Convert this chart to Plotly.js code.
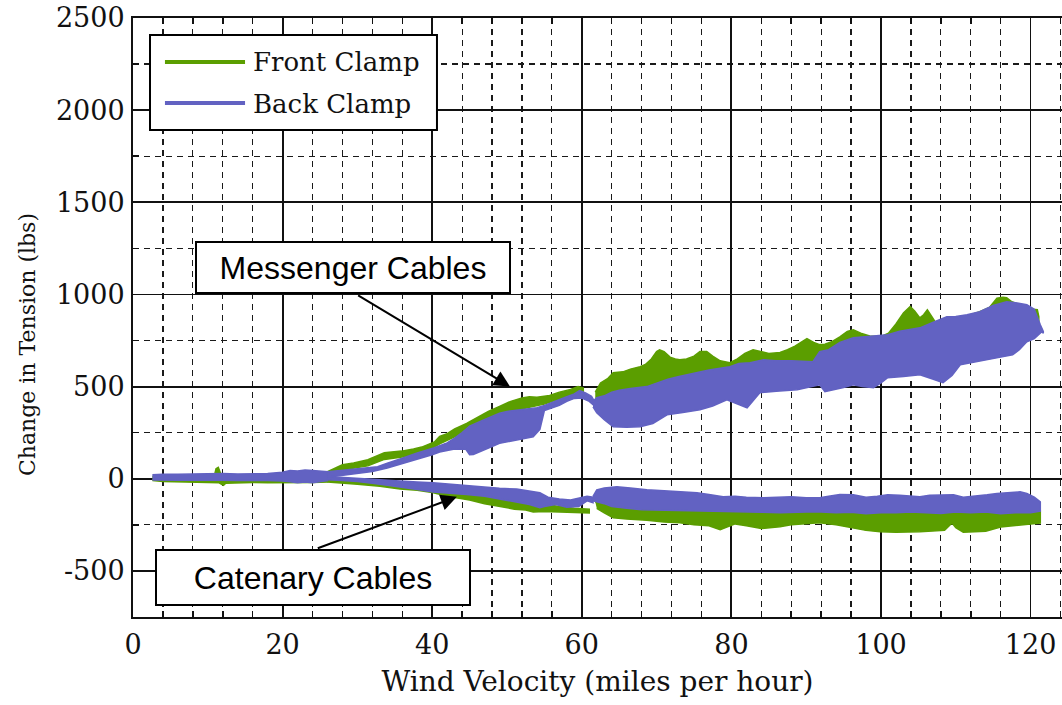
<!DOCTYPE html>
<html><head><meta charset="utf-8">
<script src="https://cdn.plot.ly/plotly-3.0.1.min.js"></script>
<style>html,body{margin:0;padding:0;background:#fff}#chart{width:1062px;height:705px}</style>
</head><body><div id="chart"></div>
<script>
// ---- series names / colours ----
const seriesNames = ['Front Clamp', 'Back Clamp'];
const frontColor = '#5b9e00';
const backColor = '#6262c2';

// ---- Front Clamp (green) band edges: [wind mph, change in tension lbs] ----
const frontFlatUpper = [[2.6,12],[4,14],[6,15],[8,14],[10,16],[10.9,20],[11.1,55],[11.4,62],[11.7,30],[12.3,14],[14,16],[16,15],[18,17],[20,20],[22,24],[24,30],[26,38]];
const frontFlatLower = [[26,-18],[24,-20],[22,-22],[20,-20],[18,-22],[16,-20],[14,-22],[12.4,-24],[12.1,-35],[11.8,-30],[11.5,-22],[10,-20],[8,-18],[6,-20],[4,-15],[2.6,-10]];
const frontMsgUpper1 = [[26,38],[28,76],[29.5,85],[31.4,103],[33.6,141],[35.9,150],[37.5,162],[38.6,172],[40.3,200],[41,230],[42,245],[43,270],[44.6,300],[46,330],[47.5,365],[49,392],[50.5,420],[52,438],[53,445],[54,442],[55,448],[55.7,452],[57,470],[58.5,485],[59.5,500],[60.2,492]];
const frontMsgLower1 = [[60.2,455],[59,450],[57,432],[55,405],[53,388],[51,368],[49,350],[47,315],[45,275],[43,228],[41,190],[40,165],[38.6,140],[36,118],[33.6,105],[31.4,70],[29.5,58],[28,48],[26,15]];
const frontCatUpper1 = [[26,-5],[28,-12],[30,-16],[33,-22],[35.7,-30],[38,-40],[40,-48],[42.4,-58],[45,-75],[47,-85],[49,-98],[51,-112],[53.5,-128],[55,-140],[57,-150],[59,-160],[61,-165]];
const frontCatLower1 = [[61,-185],[59,-182],[57,-180],[55,-178],[53.5,-180],[52.5,-170],[51,-165],[49,-152],[47,-135],[45,-115],[42.4,-98],[40,-75],[38,-62],[35.7,-55],[33,-40],[30,-30],[28,-25],[26,-18]];
const frontMsgUpper2 = [[61.8,470],[62.5,520],[63.5,545],[64.2,575],[65.5,580],[66.5,595],[67.8,608],[68.5,620],[69.3,650],[70,690],[70.4,700],[71,690],[71.8,660],[72.5,650],[73.1,646],[74,650],[75,665],[75.8,690],[76.7,690],[77.5,665],[78.5,640],[79.8,630],[80.8,650],[81.8,680],[82.9,700],[84,690],[85,680],[86.5,685],[87.5,700],[88.5,720],[89.3,740],[90.1,760],[91,740],[91.8,728],[92.5,730],[93.5,745],[94.5,770],[95.5,800],[96.3,808],[97.3,790],[98.5,775],[99.9,770],[101,790],[102,840],[103,900],[103.9,935],[104.5,910],[105.2,873],[105.7,890],[106.2,917],[106.8,880],[107.5,835],[108.5,850],[109.5,860],[111,873],[112,890],[113.2,906],[114.5,930],[115.5,980],[116.3,985],[116.8,982],[117.5,960],[118.6,944],[119.5,935],[120.3,920],[120.9,917],[121.1,880]];
const frontMsgLower2 = [[121.1,850],[119,780],[117,730],[115,700],[112,680],[110,660],[108,600],[105,610],[103.9,590],[103,610],[100,590],[97,560],[94,540],[92,540],[90,540],[87,520],[84,500],[82,450],[80,460],[78,440],[76,420],[73,400],[70,380],[67,340],[64,310],[62.5,360],[61.8,420]];
const frontCatUpper2 = [[61.8,-125],[63,-140],[64.2,-150],[66,-160],[68.7,-162],[71,-165],[73,-168],[75,-170],[77.6,-172],[80,-170],[82,-175],[84.3,-172],[86.5,-175],[88,-172],[90,-170],[92,-172],[94,-168],[96,-165],[98,-172],[100,-168],[102,-170],[104,-166],[106,-170],[108,-165],[110,-168],[112,-170],[114,-168],[116,-172],[118,-170],[120,-168],[121.3,-175]];
const frontCatLower2 = [[121.3,-240],[120,-245],[118.6,-250],[116,-262],[114,-285],[111,-290],[110,-265],[109.5,-240],[108.5,-280],[105.2,-288],[102,-290],[99.9,-288],[98,-280],[96.3,-268],[94,-250],[91.8,-239],[90,-245],[88,-250],[86.5,-260],[84,-270],[82,-255],[80.5,-245],[78.5,-277],[77,-255],[75,-250],[73.1,-239],[71,-235],[68.7,-225],[66,-218],[64.2,-212],[63,-185],[62,-160]];

// ---- Back Clamp (blue) band edges ----
const backFlatUpper = [[2.6,22],[4,25],[6,24],[8,26],[10,25],[12,28],[14,26],[16,25],[18,28],[20,35],[21,45],[22,42],[23,48],[24,45],[25,40],[26,38]];
const backFlatLower = [[26,-10],[25,-18],[24,-22],[23,-18],[22,-22],[21,-16],[20,-12],[18,-10],[16,-12],[14,-10],[12,-8],[10,-10],[8,-8],[6,-8],[4,-6],[2.6,-6]];
const backMsgUpper1 = [[26,38],[28,45],[30,52],[32.7,65],[34,85],[35,100],[36,112],[38,140],[40.3,168],[42,195],[43,220],[44,250],[45,285],[46.8,318],[48,340],[49,356],[50,365],[51,370],[52,376],[53,380],[54,386],[55,398],[56,415],[57,430],[58,445],[59,460],[59.7,478],[60.5,466],[61.3,448],[61.7,420]];
const backMsgLower1 = [[61.7,395],[61,420],[60,438],[59,436],[58,420],[57,398],[56,385],[55,370],[54.4,268],[53.5,228],[52.5,220],[51.3,210],[50,200],[49,192],[48,175],[46.8,155],[45.5,132],[45,130],[44.5,160],[43,162],[41,145],[40,130],[38,105],[36,80],[34,58],[32,40],[30,28],[28,18],[26,8]];
const backCatUpper1 = [[26,12],[28,8],[30,3],[32,-3],[34,-8],[36,-14],[38,-18],[40.1,-22],[42,-28],[44.6,-38],[47,-45],[49,-52],[51.3,-55],[53,-65],[54.4,-76],[55.5,-100],[57,-110],[58.5,-115],[59.6,-105],[60.7,-95],[61.5,-100]];
const backCatLower1 = [[61.5,-130],[60.7,-120],[59.6,-150],[58,-155],[56.5,-140],[55,-150],[54.4,-157],[53,-140],[51.3,-128],[49,-110],[47,-95],[44.6,-85],[42,-78],[40.1,-72],[38,-58],[36,-45],[34,-35],[32,-25],[30,-15],[28,-10],[26,-5]];
const backMsgUpper2 = [[61.5,420],[62,440],[63,450],[64,470],[65,480],[66.5,490],[68.7,500],[70,520],[71.5,540],[73,555],[75.4,575],[77,590],[79.8,608],[81,625],[82.5,630],[84.3,646],[86,640],[88,640],[90.9,635],[91.8,689],[93,700],[94.5,740],[96.3,765],[98,770],[100.9,781],[102.5,800],[104,810],[105.2,819],[107,850],[108.8,879],[110,880],[111.5,890],[113.2,906],[115,940],[116.8,960],[118,955],[119.5,944],[120.5,920],[121.3,835],[121.7,800]];
const backMsgLower2 = [[121.7,790],[121.5,798],[120.5,760],[119.5,743],[118.5,700],[117.6,673],[116,660],[114.2,646],[112,630],[110.6,619],[109.5,560],[108.3,521],[107,540],[105.2,564],[103,555],[100.9,548],[100,520],[99,494],[97.5,500],[96.3,510],[95,495],[93.5,480],[92.5,472],[91.8,510],[90,495],[88.8,483],[86,475],[83.8,467],[82.1,385],[80.5,410],[79.4,429],[77.5,395],[75.8,374],[73.5,360],[71.4,347],[69.5,300],[67.8,282],[66,280],[64.2,282],[63,320],[62,358],[61.5,390]];
const backCatUpper2 = [[61.5,-95],[62,-60],[63,-50],[64.7,-43],[66.5,-50],[68.7,-60],[71,-65],[73,-70],[75.4,-76],[77,-85],[78.9,-98],[80.5,-95],[82,-100],[84.3,-103],[86,-100],[88,-98],[90,-103],[91.8,-103],[93,-95],[94.5,-85],[96.3,-87],[98,-100],[99.5,-95],[100.9,-87],[102.5,-90],[104,-95],[105.2,-98],[106.5,-90],[108,-88],[109.7,-87],[111,-100],[112.5,-95],[114.2,-87],[115.5,-80],[116.8,-75],[118.6,-71],[119.5,-80],[120.5,-100],[121.3,-125]];
const backCatLower2 = [[121.3,-175],[120,-185],[118,-185],[116,-190],[114,-180],[112,-185],[110,-180],[108,-188],[106,-182],[104,-180],[102,-185],[100,-184],[98,-190],[96,-182],[94,-185],[92,-180],[90,-180],[88,-182],[86.5,-184],[84,-182],[82,-180],[80,-178],[77.6,-179],[75,-176],[72,-172],[68,-168],[66,-160],[64,-150],[63,-135],[62,-125],[61.5,-120]];

// ---- axis ticks ----
const xTicks = [0, 20, 40, 60, 80, 100, 120];
const yTicks = [-500, 0, 500, 1000, 1500, 2000, 2500];

// ---- annotation labels ----
const calloutLabels = ['Messenger Cables', 'Catenary Cables'];

function band(upper, lower, color, name) {
  const pts = upper.concat(lower);
  return {
    type: 'scatter', mode: 'lines', name: name,
    x: pts.map(p => p[0]), y: pts.map(p => p[1]),
    fill: 'toself', fillcolor: color,
    line: {color: color, width: 1.5},
    hoverinfo: 'skip', showlegend: false
  };
}

const traces = [
  band(frontFlatUpper, frontFlatLower, frontColor, seriesNames[0]),
  band(frontMsgUpper1, frontMsgLower1, frontColor, seriesNames[0]),
  band(frontCatUpper1, frontCatLower1, frontColor, seriesNames[0]),
  band(frontMsgUpper2, frontMsgLower2, frontColor, seriesNames[0]),
  band(frontCatUpper2, frontCatLower2, frontColor, seriesNames[0]),
  band(backFlatUpper, backFlatLower, backColor, seriesNames[1]),
  band(backMsgUpper1, backMsgLower1, backColor, seriesNames[1]),
  band(backCatUpper1, backCatLower1, backColor, seriesNames[1]),
  band(backMsgUpper2, backMsgLower2, backColor, seriesNames[1]),
  band(backCatUpper2, backCatLower2, backColor, seriesNames[1])
];

const serif = 'DejaVu Serif, serif';
const ink = '#111';

const axisCommon = {
  showgrid: true, gridcolor: '#111', gridwidth: 1.8,
  zeroline: false, showline: true, linecolor: ink, linewidth: 2,
  ticks: 'inside', ticklen: 6, tickcolor: ink, tickwidth: 1.5,
  tickfont: {family: serif, size: 27, color: ink}
};

const layout = {
  width: 1062, height: 705,
  margin: {l: 133, r: 0, t: 18, b: 88, pad: 0},
  paper_bgcolor: '#fff', plot_bgcolor: '#fff',
  showlegend: false,
  font: {family: serif, color: ink},
  xaxis: Object.assign({}, axisCommon, {
    range: [0, 124.2], tickmode: 'array', tickvals: xTicks, ticktext: xTicks.map(String),
    mirror: 'ticks', ticklabelstandoff: 3,
    minor: {tick0: 0, dtick: 4, showgrid: true, gridcolor: '#1a1a1a', griddash: '6px,5px', gridwidth: 1.2, ticks: 'inside', ticklen: 6, tickcolor: ink, tickwidth: 1.5},
    title: {text: 'Wind Velocity (miles per hour)', font: {family: serif, size: 28, color: ink}, standoff: 12}
  }),
  yaxis: Object.assign({}, axisCommon, {
    range: [-750, 2500], tickmode: 'array', tickvals: yTicks, ticktext: yTicks.map(String),
    mirror: false, ticklabelstandoff: 1,
    minor: {tick0: 0, dtick: 250, showgrid: true, gridcolor: '#1a1a1a', griddash: '6px,5px', gridwidth: 1.2, ticks: 'inside', ticklen: 6, tickcolor: ink, tickwidth: 1.5},
    title: {text: ''}
  }),
  shapes: [
    {type: 'rect', xref: 'paper', yref: 'paper', x0: 0.0183, x1: 0.3272, y0: 0.8130, y1: 0.9716, fillcolor: '#fff', line: {color: '#000', width: 2}, layer: 'above'},
    {type: 'line', xref: 'paper', yref: 'paper', x0: 0.0344, x1: 0.1206, y0: 0.9265, y1: 0.9265, line: {color: frontColor, width: 4}, layer: 'above'},
    {type: 'line', xref: 'paper', yref: 'paper', x0: 0.0344, x1: 0.1206, y0: 0.8581, y1: 0.8581, line: {color: backColor, width: 4}, layer: 'above'}
  ],
  annotations: [
    {xref: 'paper', yref: 'paper', x: 0.1270, y: 0.9265, xanchor: 'left', yanchor: 'middle', text: seriesNames[0], showarrow: false, font: {family: serif, size: 26, color: ink}},
    {xref: 'paper', yref: 'paper', x: 0.1270, y: 0.8564, xanchor: 'left', yanchor: 'middle', text: seriesNames[1], showarrow: false, font: {family: serif, size: 26, color: ink}},
    {xref: 'paper', yref: 'paper', x: -0.1141, y: 0.454, xanchor: 'center', yanchor: 'middle', textangle: -90, text: 'Change in Tension (lbs)', showarrow: false, font: {family: serif, size: 22, color: ink}},
    // arrows
    {xref: 'x', yref: 'y', axref: 'x', ayref: 'y', x: 50.4, y: 500, ax: 29.9, ay: 1000, text: '', showarrow: true, arrowhead: 2, arrowsize: 1.6, arrowwidth: 2, arrowcolor: '#000', standoff: 0},
    {xref: 'x', yref: 'y', axref: 'x', ayref: 'y', x: 43.3, y: -98, ax: 24.5, ay: -380, text: '', showarrow: true, arrowhead: 2, arrowsize: 1.6, arrowwidth: 2, arrowcolor: '#000', standoff: 0},
    // callout boxes
    {xref: 'x', yref: 'y', x: 29.36, y: 1145, text: calloutLabels[0], showarrow: false, font: {family: 'Liberation Sans, Arial, sans-serif', size: 32, color: '#000'}, bgcolor: '#fff', bordercolor: '#000', borderwidth: 2, borderpad: 0, width: 312, height: 49},
    {xref: 'x', yref: 'y', x: 24.0, y: -534, text: calloutLabels[1], showarrow: false, font: {family: 'Liberation Sans, Arial, sans-serif', size: 32, color: '#000'}, bgcolor: '#fff', bordercolor: '#000', borderwidth: 2, borderpad: 0, width: 312, height: 53}
  ]
};

Plotly.newPlot('chart', traces, layout, {displayModeBar: false, staticPlot: true});
</script>
</body></html>
